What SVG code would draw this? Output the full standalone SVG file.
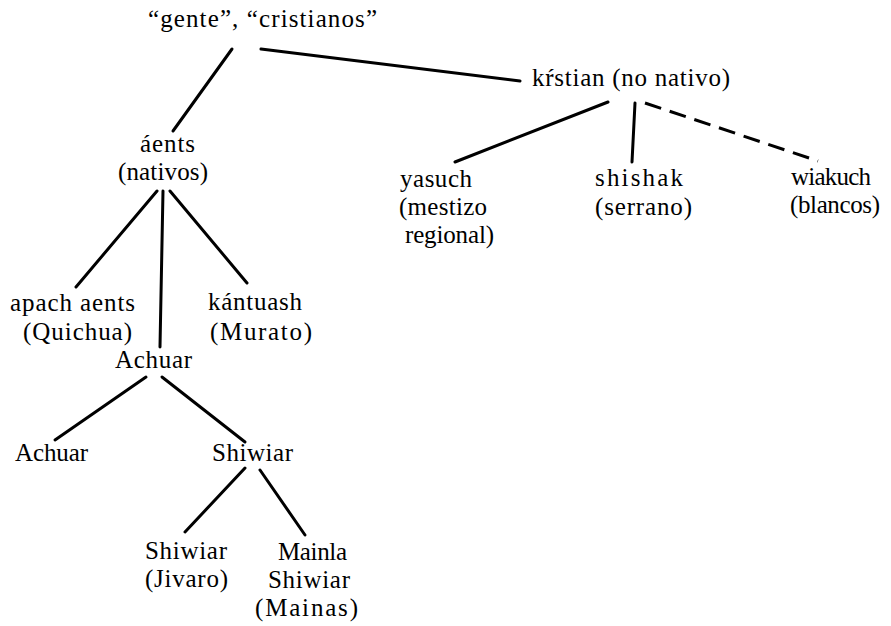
<svg xmlns="http://www.w3.org/2000/svg" width="891" height="626" viewBox="0 0 891 626">
<style>
text{font-family:"Liberation Serif","Times New Roman",serif;font-size:25px;fill:#000}
.e{stroke:#000;stroke-width:3;fill:none;stroke-linecap:round}
.d{stroke-dasharray:17 9;stroke-linecap:butt}
</style>
<rect width="891" height="626" fill="#fff"/>
<g id="connectors">
<line class="e" x1="232" y1="49" x2="173" y2="131"/>
<line class="e" x1="261" y1="49" x2="520" y2="81"/>
<line class="e" x1="608" y1="102" x2="455" y2="162"/>
<line class="e" x1="635" y1="103" x2="632" y2="162"/>
<line class="e d" x1="645" y1="103" x2="818" y2="161"/>
<line class="e" x1="157" y1="191" x2="76" y2="287"/>
<line class="e" x1="163" y1="191" x2="160" y2="347"/>
<line class="e" x1="170" y1="191" x2="247" y2="283"/>
<line class="e" x1="146" y1="377" x2="55" y2="440"/>
<line class="e" x1="162" y1="377" x2="245" y2="442"/>
<line class="e" x1="245" y1="468" x2="185" y2="532"/>
<line class="e" x1="260" y1="470" x2="305" y2="535"/>
</g>
<g id="gente"><text x="148" y="27" textLength="229" lengthAdjust="spacing">“gente”, “cristianos”</text></g>
<g id="kristian"><text x="532" y="86" textLength="198" lengthAdjust="spacing">kŕstian (no nativo)</text></g>
<g id="aents"><text x="140" y="152" textLength="55" lengthAdjust="spacing">áents</text><text x="118" y="180" textLength="90" lengthAdjust="spacing">(nativos)</text></g>
<g id="yasuch"><text x="400" y="187" textLength="72" lengthAdjust="spacing">yasuch</text><text x="399" y="215" textLength="88" lengthAdjust="spacing">(mestizo</text><text x="405" y="243" textLength="89" lengthAdjust="spacing">regional)</text></g>
<g id="shishak"><text x="595" y="186" textLength="88" lengthAdjust="spacing">shishak</text><text x="595" y="215" textLength="97" lengthAdjust="spacing">(serrano)</text></g>
<g id="wiakuch"><text x="791" y="185" textLength="80" lengthAdjust="spacing">wiakuch</text><text x="790" y="213" textLength="90" lengthAdjust="spacing">(blancos)</text></g>
<g id="apach"><text x="10" y="311" textLength="125" lengthAdjust="spacing">apach aents</text><text x="23" y="340" textLength="109" lengthAdjust="spacing">(Quichua)</text></g>
<g id="kantuash"><text x="208" y="310" textLength="94" lengthAdjust="spacing">kántuash</text><text x="210" y="340" textLength="102" lengthAdjust="spacing">(Murato)</text></g>
<g id="achuar-mid"><text x="115" y="368" textLength="77" lengthAdjust="spacing">Achuar</text></g>
<g id="achuar"><text x="15" y="461" textLength="73" lengthAdjust="spacing">Achuar</text></g>
<g id="shiwiar"><text x="212" y="461" textLength="81" lengthAdjust="spacing">Shiwiar</text></g>
<g id="shiwiar-jivaro"><text x="145" y="559" textLength="82" lengthAdjust="spacing">Shiwiar</text><text x="145" y="587" textLength="83" lengthAdjust="spacing">(Jivaro)</text></g>
<g id="mainla"><text x="278" y="560" textLength="69" lengthAdjust="spacing">Mainla</text><text x="268" y="588" textLength="82" lengthAdjust="spacing">Shiwiar</text><text x="255" y="616" textLength="103" lengthAdjust="spacing">(Mainas)</text></g>
</svg>
